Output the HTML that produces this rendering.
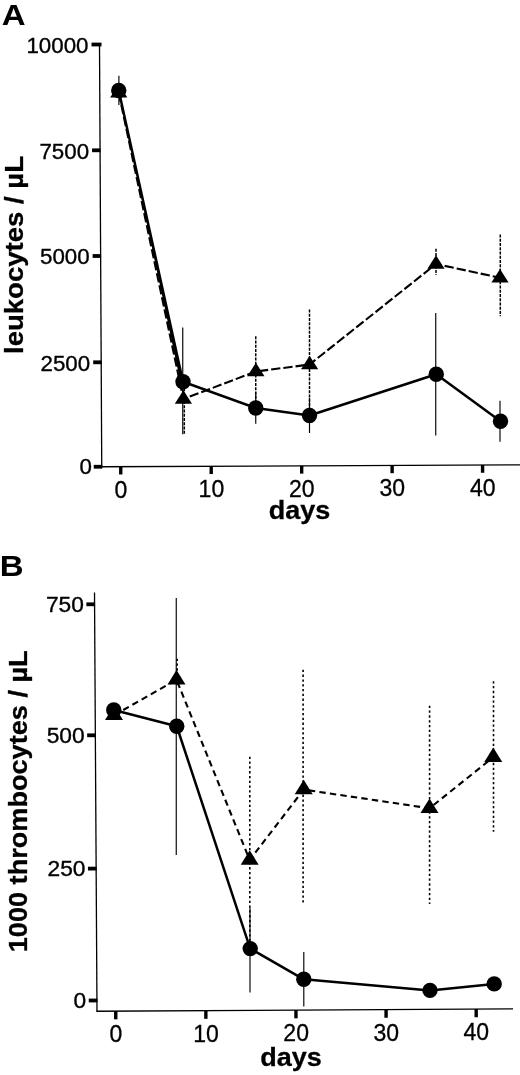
<!DOCTYPE html>
<html><head><meta charset="utf-8"><title>Figure</title>
<style>
html,body{margin:0;padding:0;background:#fff;}
body{width:520px;height:1075px;overflow:hidden;font-family:"Liberation Sans",sans-serif;}
svg{display:block;will-change:transform;}
text{font-family:"Liberation Sans",sans-serif;fill:#000;}
.tk{font-size:23px;stroke:#000;stroke-width:0.3px;}
.tky{font-size:22.1px;stroke:#000;stroke-width:0.35px;}
.ax{font-size:26.5px;font-weight:bold;stroke:#000;stroke-width:0.3px;}
.pl{font-size:30px;font-weight:bold;}
</style></head>
<body>
<svg width="520" height="1075" viewBox="0 0 520 1075">
<rect width="520" height="1075" fill="#fff"/>
<line x1="99.50" y1="43.50" x2="101.75" y2="467.30" stroke="#000" stroke-width="1.3"/>
<line x1="101.20" y1="466.75" x2="520.00" y2="464.80" stroke="#000" stroke-width="1.3"/>
<line x1="91.51" y1="44.50" x2="101.51" y2="44.50" stroke="#000" stroke-width="3.8"/>
<text transform="translate(88.51,52.80) scale(1.01,1)" text-anchor="end" class="tky">10000</text>
<line x1="92.07" y1="150.30" x2="100.57" y2="150.30" stroke="#000" stroke-width="3.8"/>
<text transform="translate(89.07,158.60) scale(1.01,1)" text-anchor="end" class="tky">7500</text>
<line x1="92.63" y1="256.00" x2="101.13" y2="256.00" stroke="#000" stroke-width="3.8"/>
<text transform="translate(89.63,264.30) scale(1.01,1)" text-anchor="end" class="tky">5000</text>
<line x1="93.19" y1="362.30" x2="101.69" y2="362.30" stroke="#000" stroke-width="3.8"/>
<text transform="translate(90.19,370.60) scale(1.01,1)" text-anchor="end" class="tky">2500</text>
<line x1="93.75" y1="466.75" x2="102.25" y2="466.75" stroke="#000" stroke-width="3.8"/>
<text transform="translate(91.95,474.25) scale(1.01,1)" text-anchor="end" class="tky">0</text>
<line x1="120.75" y1="466.66" x2="120.75" y2="474.46" stroke="#000" stroke-width="3.4"/>
<text x="120.95" y="497.66" text-anchor="middle" class="tk">0</text>
<line x1="211.21" y1="466.24" x2="211.21" y2="474.04" stroke="#000" stroke-width="3.4"/>
<text x="211.41" y="497.24" text-anchor="middle" class="tk">10</text>
<line x1="301.67" y1="465.82" x2="301.67" y2="473.62" stroke="#000" stroke-width="3.4"/>
<text x="301.87" y="496.82" text-anchor="middle" class="tk">20</text>
<line x1="392.13" y1="465.39" x2="392.13" y2="473.19" stroke="#000" stroke-width="3.4"/>
<text x="392.33" y="496.39" text-anchor="middle" class="tk">30</text>
<line x1="482.59" y1="464.97" x2="482.59" y2="472.77" stroke="#000" stroke-width="3.4"/>
<text x="482.79" y="495.97" text-anchor="middle" class="tk">40</text>
<line x1="118.9" y1="75.75" x2="118.9" y2="105" stroke="#000" stroke-width="1.15"/>
<line x1="182.75" y1="327.5" x2="182.75" y2="434.25" stroke="#000" stroke-width="1.15"/>
<line x1="255.75" y1="392.25" x2="255.75" y2="423.75" stroke="#000" stroke-width="1.15"/>
<line x1="309.5" y1="398" x2="309.5" y2="433" stroke="#000" stroke-width="1.15"/>
<line x1="435.75" y1="313" x2="435.75" y2="435.5" stroke="#000" stroke-width="1.15"/>
<line x1="500" y1="400.75" x2="500" y2="441.75" stroke="#000" stroke-width="1.15"/>
<line x1="184.3" y1="384" x2="184.3" y2="434.25" stroke="#000" stroke-width="1.5" stroke-dasharray="3.0,1.25"/>
<line x1="255.75" y1="336.25" x2="255.75" y2="406.75" stroke="#000" stroke-width="1.5" stroke-dasharray="3.0,1.25"/>
<line x1="309.5" y1="309.5" x2="309.5" y2="419.5" stroke="#000" stroke-width="1.5" stroke-dasharray="3.0,1.25"/>
<line x1="436" y1="248.75" x2="436" y2="275" stroke="#000" stroke-width="1.5" stroke-dasharray="3.0,1.25"/>
<line x1="500.3" y1="234.6" x2="500.3" y2="316.25" stroke="#000" stroke-width="1.5" stroke-dasharray="3.0,1.25"/>
<polygon points="118.75,90.5 183,381.75 184.0,399 119.35,92.75" fill="#000"/>
<polyline points="118.75,92.75 183.4,399 255.9,371.5 309.6,364.5 436,264 500,277.75" fill="none" stroke="#000" stroke-width="2.1" stroke-linejoin="round" stroke-dasharray="9.3,3"/>
<polyline points="118.75,90.5 183,381.75 255.75,408 309.5,415.5 436.25,374.25 500.5,421.25" fill="none" stroke="#000" stroke-width="2.5" stroke-linejoin="round"/>
<polygon points="110.15,97.50 127.35,97.50 118.75,83.90" fill="#000"/>
<polygon points="174.80,403.75 192.00,403.75 183.40,390.15" fill="#000"/>
<polygon points="247.30,376.25 264.50,376.25 255.90,362.65" fill="#000"/>
<polygon points="301.00,369.25 318.20,369.25 309.60,355.65" fill="#000"/>
<polygon points="427.40,268.75 444.60,268.75 436.00,255.15" fill="#000"/>
<polygon points="491.40,282.50 508.60,282.50 500.00,268.90" fill="#000"/>
<circle cx="118.75" cy="90.5" r="7.7" fill="#000"/>
<circle cx="183" cy="381.75" r="7.7" fill="#000"/>
<circle cx="255.75" cy="408" r="7.7" fill="#000"/>
<circle cx="309.5" cy="415.5" r="7.7" fill="#000"/>
<circle cx="436.25" cy="374.25" r="7.7" fill="#000"/>
<circle cx="500.5" cy="421.25" r="7.7" fill="#000"/>
<line x1="94.50" y1="592.50" x2="97.00" y2="1011.70" stroke="#000" stroke-width="1.3"/>
<line x1="96.50" y1="1011.25" x2="513.00" y2="1008.85" stroke="#000" stroke-width="1.3"/>
<line x1="86.37" y1="604.30" x2="95.07" y2="604.30" stroke="#000" stroke-width="3.8"/>
<text transform="translate(83.87,611.90) scale(1.03,1)" text-anchor="end" class="tky">750</text>
<line x1="87.15" y1="735.30" x2="95.85" y2="735.30" stroke="#000" stroke-width="3.8"/>
<text transform="translate(84.65,742.90) scale(1.03,1)" text-anchor="end" class="tky">500</text>
<line x1="87.95" y1="868.60" x2="96.65" y2="868.60" stroke="#000" stroke-width="3.8"/>
<text transform="translate(85.45,876.20) scale(1.03,1)" text-anchor="end" class="tky">250</text>
<line x1="88.73" y1="1000.50" x2="97.43" y2="1000.50" stroke="#000" stroke-width="3.8"/>
<text transform="translate(86.23,1008.10) scale(1.03,1)" text-anchor="end" class="tky">0</text>
<line x1="115.75" y1="1011.14" x2="115.75" y2="1019.34" stroke="#000" stroke-width="3.4"/>
<text x="115.95" y="1042.14" text-anchor="middle" class="tk">0</text>
<line x1="205.86" y1="1010.62" x2="205.86" y2="1018.82" stroke="#000" stroke-width="3.4"/>
<text x="206.06" y="1041.62" text-anchor="middle" class="tk">10</text>
<line x1="295.97" y1="1010.10" x2="295.97" y2="1018.30" stroke="#000" stroke-width="3.4"/>
<text x="296.17" y="1041.10" text-anchor="middle" class="tk">20</text>
<line x1="386.08" y1="1009.58" x2="386.08" y2="1017.78" stroke="#000" stroke-width="3.4"/>
<text x="386.28" y="1040.58" text-anchor="middle" class="tk">30</text>
<line x1="476.19" y1="1009.06" x2="476.19" y2="1017.26" stroke="#000" stroke-width="3.4"/>
<text x="476.39" y="1040.06" text-anchor="middle" class="tk">40</text>
<line x1="176.25" y1="598" x2="176.25" y2="855" stroke="#000" stroke-width="1.15"/>
<line x1="250" y1="907.4" x2="250" y2="992.4" stroke="#000" stroke-width="1.15"/>
<line x1="303.8" y1="952" x2="303.8" y2="1006.4" stroke="#000" stroke-width="1.15"/>
<line x1="177.2" y1="658.75" x2="177.2" y2="686" stroke="#000" stroke-width="1.6" stroke-dasharray="2.3,2.5"/>
<line x1="249.8" y1="756.7" x2="249.8" y2="950" stroke="#000" stroke-width="1.6" stroke-dasharray="2.3,2.5"/>
<line x1="303.1" y1="669.8" x2="303.1" y2="903.2" stroke="#000" stroke-width="1.6" stroke-dasharray="2.3,2.5"/>
<line x1="429.6" y1="705.75" x2="429.6" y2="904" stroke="#000" stroke-width="1.6" stroke-dasharray="2.3,2.5"/>
<line x1="493.5" y1="681.25" x2="493.5" y2="831.8" stroke="#000" stroke-width="1.6" stroke-dasharray="2.3,2.5"/>
<polyline points="114,715.25 176.5,679.75 249.7,860 303.7,789.6 429.5,808.25 493.25,757.25" fill="none" stroke="#000" stroke-width="2.1" stroke-linejoin="round" stroke-dasharray="6.4,4.2"/>
<polyline points="113.75,710 176.75,726.25 250.2,948.6 303.8,979.3 430,990.4 494.2,983.9" fill="none" stroke="#000" stroke-width="2.5" stroke-linejoin="round"/>
<polygon points="105.00,720.00 123.00,720.00 114.00,705.40" fill="#000"/>
<polygon points="167.50,684.50 185.50,684.50 176.50,669.90" fill="#000"/>
<polygon points="240.70,864.75 258.70,864.75 249.70,850.15" fill="#000"/>
<polygon points="294.70,794.35 312.70,794.35 303.70,779.75" fill="#000"/>
<polygon points="420.50,813.00 438.50,813.00 429.50,798.40" fill="#000"/>
<polygon points="484.25,762.00 502.25,762.00 493.25,747.40" fill="#000"/>
<circle cx="113.75" cy="710" r="7.7" fill="#000"/>
<circle cx="176.75" cy="726.25" r="7.7" fill="#000"/>
<circle cx="250.2" cy="948.6" r="7.7" fill="#000"/>
<circle cx="303.8" cy="979.3" r="7.7" fill="#000"/>
<circle cx="430" cy="990.4" r="7.7" fill="#000"/>
<circle cx="494.2" cy="983.9" r="7.7" fill="#000"/>
<text transform="translate(1.8,25.3) scale(1.10,1)" class="pl">A</text>
<text transform="translate(-0.2,575.6) scale(1.10,1)" class="pl">B</text>
<text transform="translate(299.5,518.7) scale(1.02,1)" text-anchor="middle" class="ax">days</text>
<text transform="translate(291,1065.8) scale(1.02,1)" text-anchor="middle" class="ax">days</text>
<text transform="translate(23.1,255) rotate(-90) scale(1.04,1)" text-anchor="middle" class="ax">leukocytes / µL</text>
<text transform="translate(27,801.3) rotate(-90) scale(1.024,1)" text-anchor="middle" class="ax">1000 thrombocytes / µL</text>
</svg>
</body></html>
